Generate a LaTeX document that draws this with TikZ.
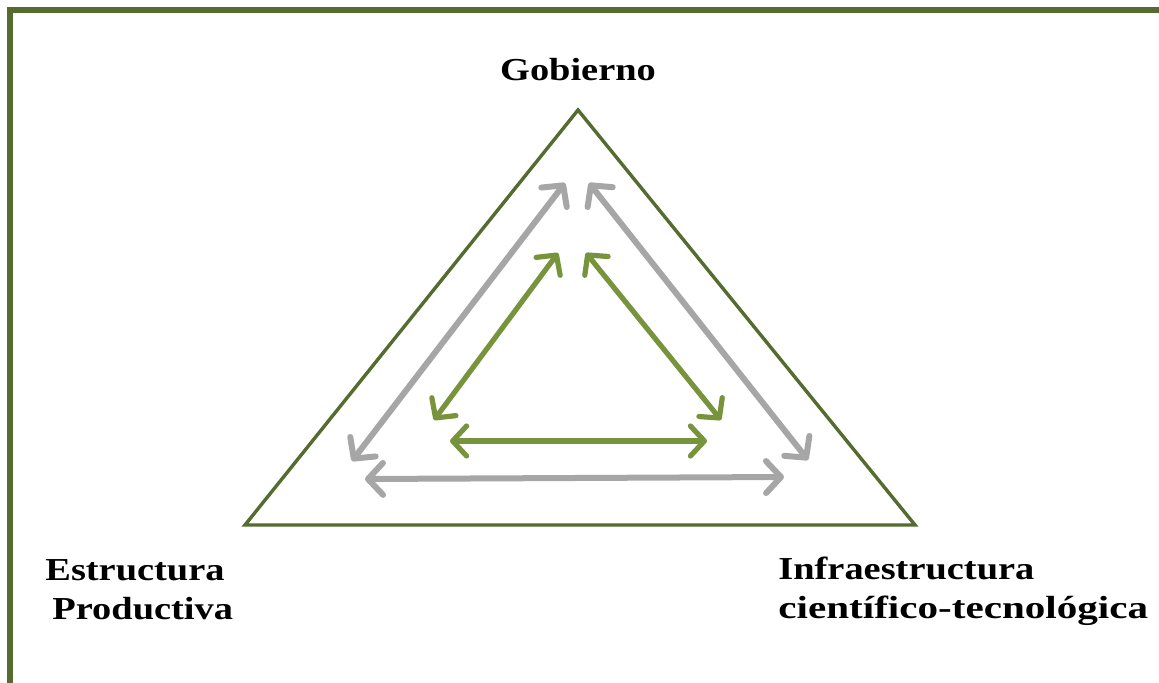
\documentclass[tikz,border=0pt]{standalone}
\usepackage{fontspec}
\setmainfont{Liberation Serif}[FakeStretch=1.2]
\usetikzlibrary{arrows.meta}
\definecolor{olivedark}{RGB}{85,107,47}
\definecolor{leafgreen}{RGB}{119,147,60}
\definecolor{arrowgray}{RGB}{166,166,166}
\tikzset{
  x=0.5pt, y=-0.5pt,
  frameline/.style={draw=olivedark, line width=2.6pt},
  triline/.style={draw=olivedark, line width=1.7pt, line join=miter},
  outerlink/.style={arrowgray, line width=3pt, line cap=round,
    {Straight Barb[length=7.5pt, width=16pt, round]}-{Straight Barb[length=7.5pt, width=16pt, round]}},
  innerlink/.style={leafgreen, line width=2.6pt, line cap=round,
    {Straight Barb[length=7pt, width=15pt, round]}-{Straight Barb[length=7pt, width=15pt, round]}},
  label/.style={font=\fontsize{16}{19.2}\selectfont\bfseries, inner sep=0pt, text=black}
}
\begin{document}
\begin{tikzpicture}
\useasboundingbox (0,0) rectangle (1159,683);
\clip (0,0) rectangle (1159,683);
\fill[white] (0,0) rectangle (1159,683);
% outer frame (its right and bottom sides lie beyond the page)
\draw[frameline] (10,10) rectangle (1180,710);

% triangle corners
\coordinate (top) at (578,110);
\coordinate (bl) at (245,525);
\coordinate (br) at (915,525);
\draw[triline] (top) -- (br) -- (bl) -- cycle;

% labels (base anchor sits on the last line)
\node[label, anchor=base] (gob) at (578,81) {Gobierno};
\node[label, anchor=base west, align=left] (est) at (45,619)
  {Estructura\\\hspace{3.5pt}Productiva};
\node[label, anchor=base west, align=left] (inf) at (778,618)
  {Infraestructura\\\scalebox{1.07}[1]{científico-tecnológica}};

% outer (gray) relations
\coordinate (oL1) at (565,183);
\coordinate (oL2) at (352,461);
\coordinate (oR1) at (589,183);
\coordinate (oR2) at (808,460);
\coordinate (oB1) at (365,479);
\coordinate (oB2) at (784,477);
\draw[outerlink] (oL1) -- (oL2);
\draw[outerlink] (oR1) -- (oR2);
\draw[outerlink] (oB1) -- (oB2);

% inner (green) relations
\coordinate (iL1) at (558,253);
\coordinate (iL2) at (434,420);
\coordinate (iR1) at (586,253);
\coordinate (iR2) at (721,420);
\coordinate (iB1) at (450,441);
\coordinate (iB2) at (707,441);
\draw[innerlink] (iL1) -- (iL2);
\draw[innerlink] (iR1) -- (iR2);
\draw[innerlink] (iB1) -- (iB2);
\end{tikzpicture}
\end{document}
